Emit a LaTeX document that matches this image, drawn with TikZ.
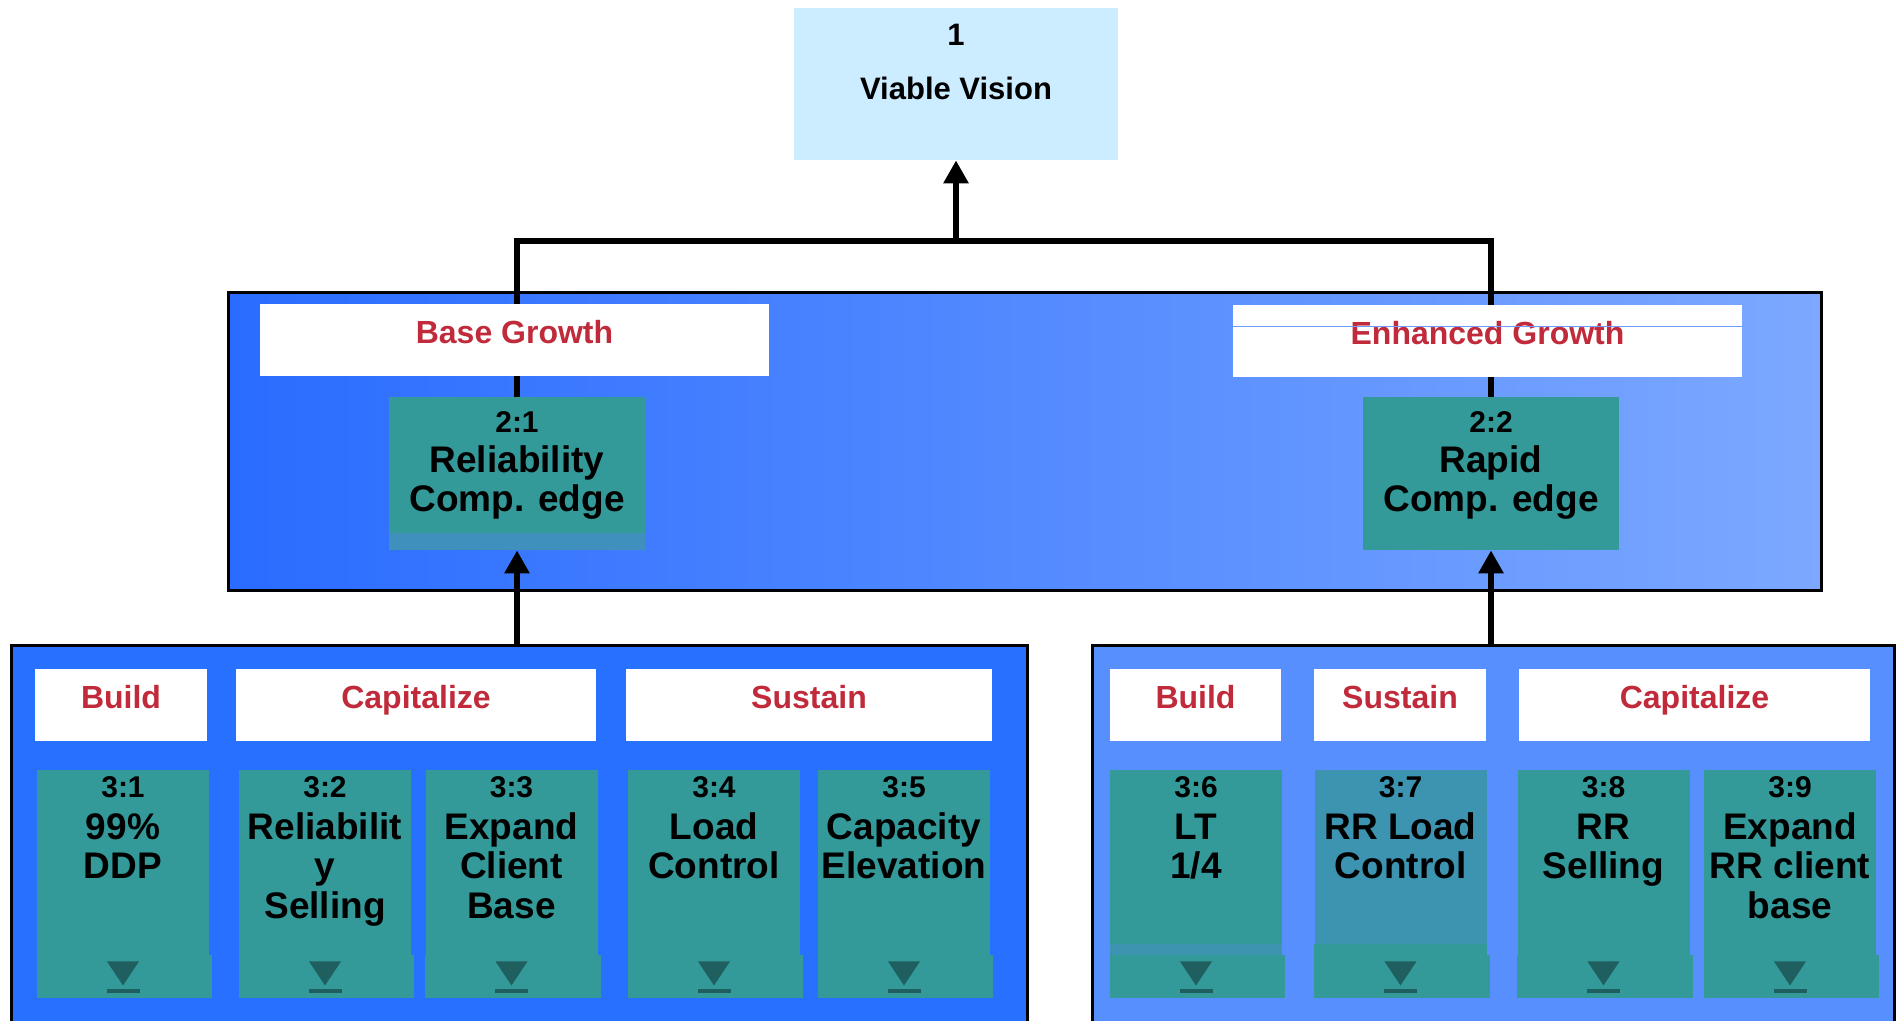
\documentclass[tikz,border=0pt]{standalone}
\usepackage{fontspec}
\setmainfont{Liberation Sans}
\usetikzlibrary{arrows.meta}

\definecolor{visionblue}{RGB}{204,236,255}
\definecolor{growL}{RGB}{42,108,255}
\definecolor{growR}{RGB}{124,168,255}
\definecolor{panelL}{RGB}{40,112,255}
\definecolor{panelR}{RGB}{88,143,255}
\definecolor{tealbox}{RGB}{51,153,153}
\definecolor{tridark}{RGB}{31,95,95}
\definecolor{stipple}{RGB}{64,144,190}
\definecolor{stippleR}{RGB}{60,148,176}
\definecolor{hdrred}{RGB}{192,42,58}
\definecolor{hairblue}{RGB}{110,155,255}

\newcommand\itemno[1]{{\fontsize{15}{19.75}\selectfont #1}}

\pgfdeclarelayer{back}
\pgfdeclarelayer{wires}
\pgfsetlayers{back,wires,main}

\begin{document}
\begin{tikzpicture}
[x=0.5pt,y=-0.5pt,
 panel/.style={draw=black,line width=1.5pt,anchor=north west,inner sep=0},
 hdr/.style={fill=white,inner sep=0,minimum height=36pt,label={[hdrtext]north:{#1}}},
 hdrtext/.style={anchor=north,inner sep=0,yshift=-8pt,text=hdrred,font=\bfseries\fontsize{16}{19}\selectfont},
 itemtext/.style={anchor=north,inner sep=0,align=center,font=\bfseries\fontsize{18.5}{19.75}\selectfont},
 item/.style={fill=tealbox,inner sep=0,minimum width=86pt,minimum height=114pt,label={[itemtext,yshift=-3.5pt]north:{#1}}},
 mid/.style={fill=tealbox,inner sep=0,minimum width=128pt,minimum height=76.5pt,label={[itemtext,yshift=-7.5pt]north:{#1}}},
 vis/.style={fill=visionblue,inner sep=0,minimum width=162pt,minimum height=76pt,label={[vistext]north:{#1}}},
 vistext/.style={anchor=north,inner sep=0,yshift=-8pt,align=center,font=\bfseries\fontsize{15.5}{27}\selectfont},
 link/.style={line width=3.2pt},
 rise/.style={-{Triangle[width=12pt,length=11.5pt]}},
 tri/.style={fill=tridark}]

\clip (0,0) rectangle (1896,1021);

\begin{pgfonlayer}{back}
\node[panel,left color=growL,right color=growR,minimum width=796.5pt,minimum height=149pt] (growth) at (227,291) {}; %growth
\node[panel,fill=panelL,minimum width=508pt,minimum height=200pt] (lpanel) at (10,644) {}; %left
\node[panel,fill=panelR,minimum width=401pt,minimum height=200pt] (rpanel) at (1091,644) {}; %right
\end{pgfonlayer}

\node[vis={1\\Viable Vision}] (vision) at (956,84) {};

\node[hdr=Base Growth,minimum width=254.5pt] (basehdr) at (514.5,340.5) {};
\node[hdr=Enhanced Growth,minimum width=254.5pt] (enhhdr) at (1487.5,341) {};
\draw[hairblue,line width=0.6pt] ([yshift=-11pt]enhhdr.north west) -- ([yshift=-11pt]enhhdr.north east);

\node[mid={\itemno{2:1}\\Reliability\\Comp. edge}] (c21) at (517,473.5) {};
\node[mid={\itemno{2:2}\\Rapid\\Comp. edge}] (c22) at (1491,473.5) {};
\fill[stipple] (c21.south west) rectangle ([yshift=8.5pt]c21.south east);

\node[hdr=Build,minimum width=86pt] (lbuild) at (121,705) {};
\node[hdr=Capitalize,minimum width=180pt] (lcap) at (416,705) {};
\node[hdr=Sustain,minimum width=183pt] (lsus) at (809,705) {};
\node[hdr=Build,minimum width=85.5pt] (rbuild) at (1195.5,705) {};
\node[hdr=Sustain,minimum width=86pt] (rsus) at (1400,705) {};
\node[hdr=Capitalize,minimum width=175.5pt] (rcap) at (1694.5,705) {};

\node[item={\itemno{3:1}\\[1pt]99\%\\DDP}] (c31) at (123,884) {};
\node[item={\itemno{3:2}\\[1pt]Reliabilit\\y\\Selling}] (c32) at (325,884) {};
\node[item={\itemno{3:3}\\[1pt]Expand\\Client\\Base}] (c33) at (511.5,884) {};
\node[item={\itemno{3:4}\\[1pt]Load\\Control}] (c34) at (714,884) {};
\node[item={\itemno{3:5}\\[1pt]Capacity\\Elevation}] (c35) at (904,884) {};
\node[item={\itemno{3:6}\\[1pt]LT\\1/4}] (c36) at (1196,884) {};
\node[item={\itemno{3:7}\\[1pt]RR Load\\Control},fill=stippleR] (c37) at (1400.5,884) {};
\node[item={\itemno{3:8}\\[1pt]RR\\Selling}] (c38) at (1603.5,884) {};
\node[item={\itemno{3:9}\\[1pt]Expand\\RR client\\base}] (c39) at (1790,884) {};

\fill[tealbox] ([yshift=27pt]c37.south west) rectangle (c37.south east);
\fill[stippleR] ([yshift=27pt]c36.south west) rectangle ([yshift=21.5pt]c36.south east);

\foreach \n in {c31,c32,c33,c34,c35,c36,c37,c38,c39}{
  \fill[tealbox] ([yshift=21.5pt]\n.south west) rectangle ([xshift=1.5pt]\n.south east); %tab
  \fill[tri] ([xshift=-8pt,yshift=18.5pt]\n.south) -- ([xshift=8pt,yshift=18.5pt]\n.south) -- ([yshift=6.5pt]\n.south) -- cycle;
  \fill[tri] ([xshift=-8.25pt,yshift=2.5pt]\n.south) rectangle ([xshift=8.25pt,yshift=4.5pt]\n.south);
}

\begin{pgfonlayer}{wires}
\coordinate (split) at (956,241);
\draw[link] (c21.north) |- (split) -| (c22.north);
\draw[link,rise] (split) -- (vision.south);
\draw[link,rise] (c21.south |- lpanel.north) -- (c21.south);
\draw[link,rise] (c22.south |- rpanel.north) -- (c22.south);
\end{pgfonlayer}

\end{tikzpicture}
\end{document}
